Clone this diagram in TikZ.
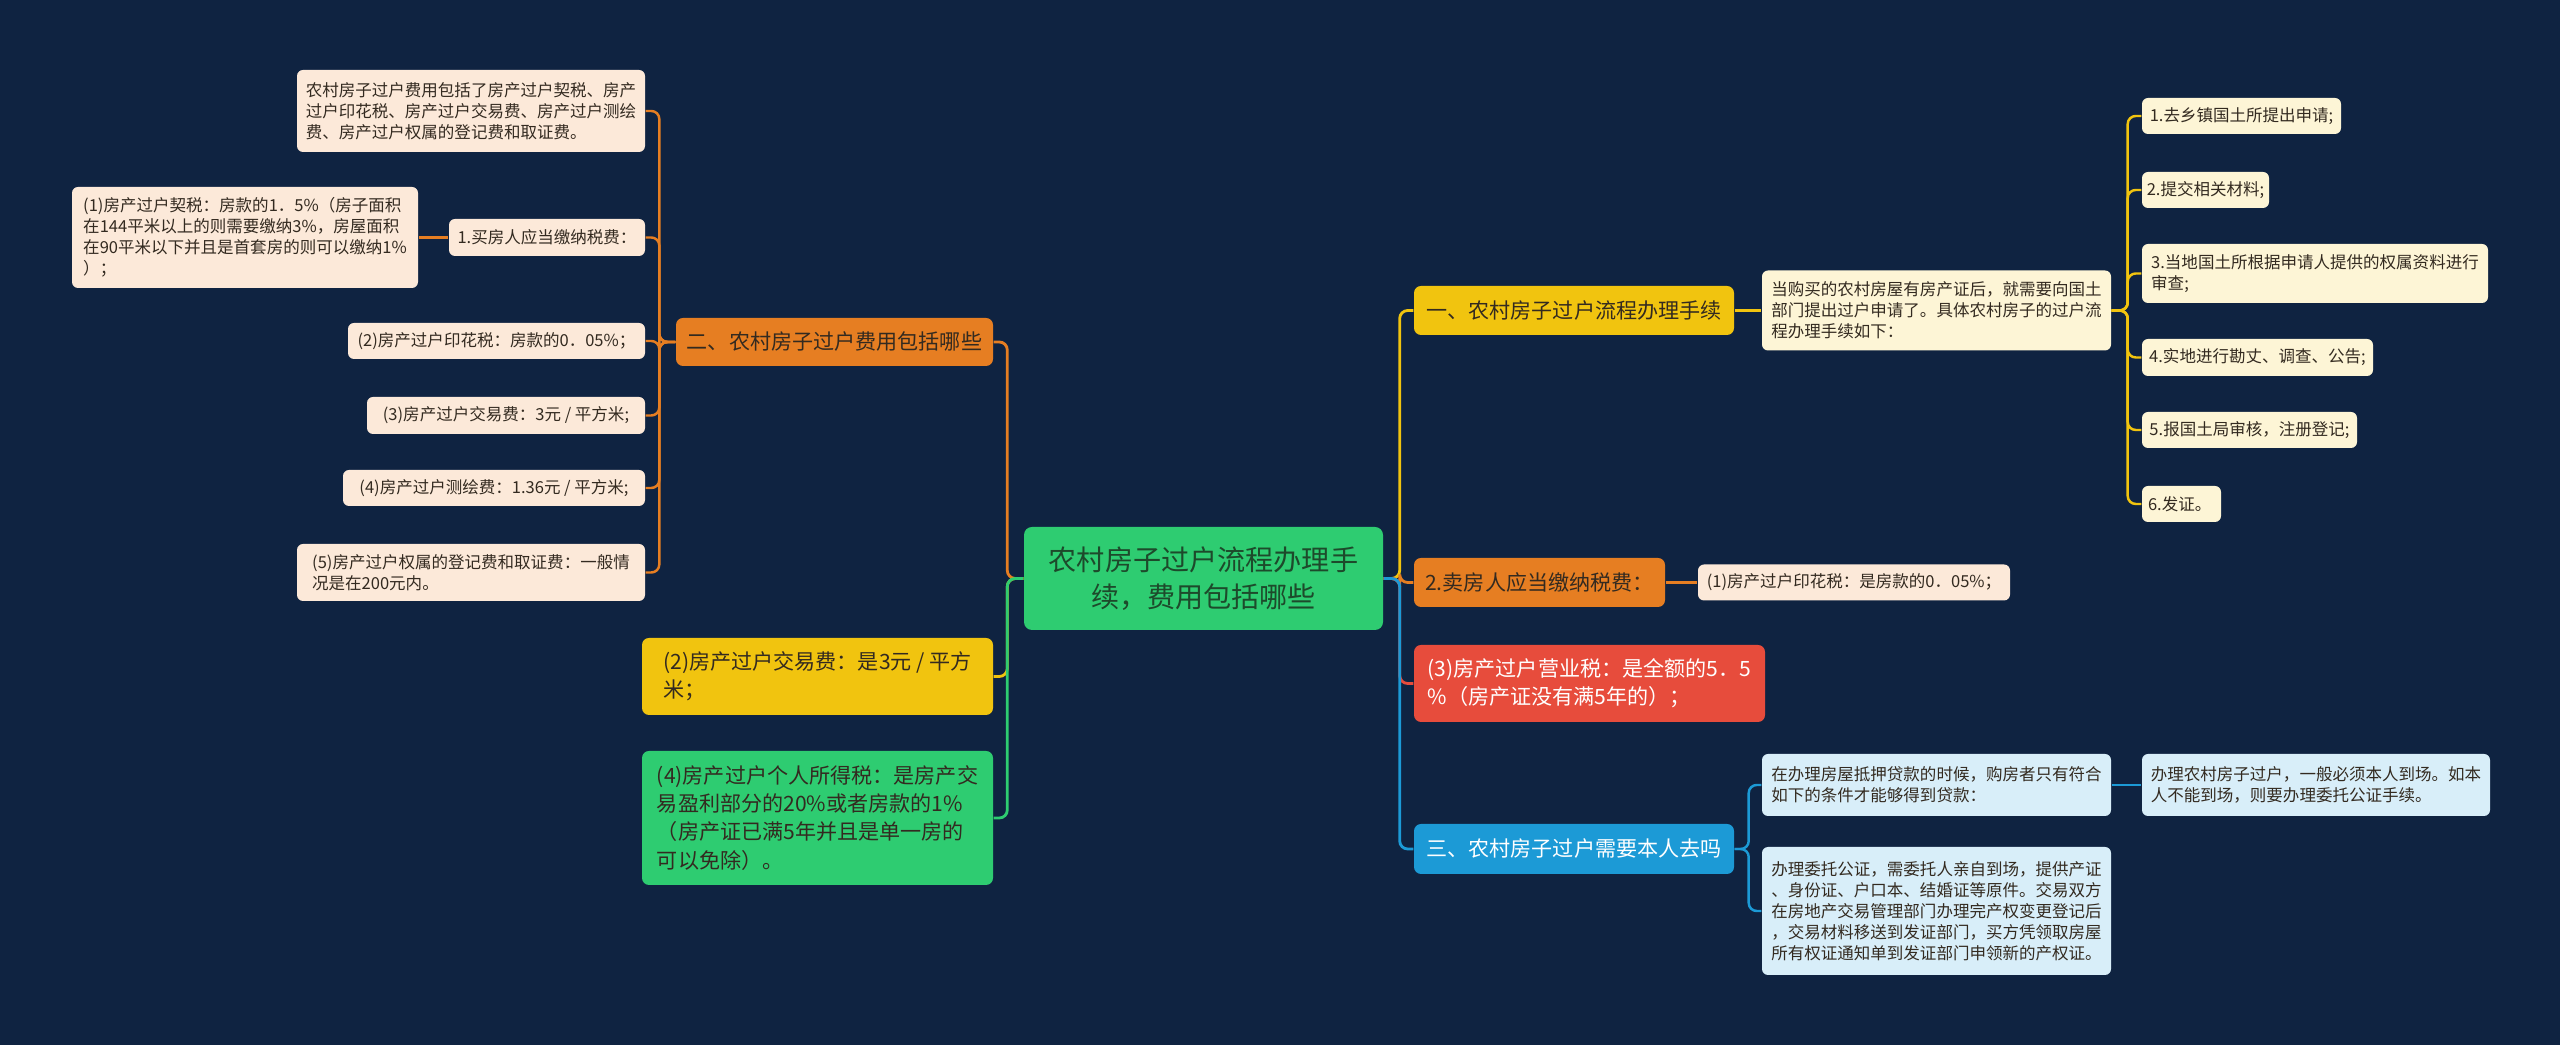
\documentclass[tikz,border=0pt]{standalone}
\usepackage{fontspec}
\setmainfont{Noto Sans CJK SC}
\usepackage{xcolor}
\usepackage{tikz}
\usetikzlibrary{positioning}
\definecolor{kbg}{HTML}{0F2341}
\definecolor{korange}{HTML}{E67E22}
\definecolor{kyellow}{HTML}{F1C40F}
\definecolor{kgreen}{HTML}{2ECC71}
\definecolor{kred}{HTML}{E74C3C}
\definecolor{kblue}{HTML}{1C9AD6}
\definecolor{kpeach}{HTML}{FCE9D9}
\definecolor{kcream}{HTML}{FDF5D6}
\definecolor{ksky}{HTML}{D8EEF9}
\definecolor{kink}{HTML}{332A20}
\definecolor{kinkgreen}{HTML}{1D4A2B}

\newcommand{\leaffont}{\fontsize{4.7pt}{6pt}\selectfont}
\newcommand{\topicfont}{\fontsize{6pt}{8pt}\selectfont}
\newcommand{\rootfont}{\fontsize{8pt}{10.5pt}\selectfont}

\tikzset{
  box/.style={rounded corners=0.6mm, inner sep=0pt, align=left, text=kink},
  leaf/.style={box, fill=#1, font=\leaffont},
  topic/.style={box, fill=#1, font=\topicfont, rounded corners=0.7mm},
  conn/.style={draw=#1, line width=0.8pt, rounded corners=0.8mm},
}

\begin{document}
\begin{tikzpicture}[x=0.1mm, y=-0.1mm]

  %% Background
  \fill[kbg] (0,0) rectangle (2560,1045);
  \useasboundingbox (0,0) rectangle (2560,1045);

  %% Root
  \node[box, fill=kgreen, font=\rootfont, text=kinkgreen, align=center,
    rounded corners=0.8mm, minimum width=35.9mm, minimum height=10.3mm] (root) at (1203.5,578.5)
    {农村房子过户流程办理手\\续，费用包括哪些};

  %% Left topics
  \node[topic=korange, minimum width=31.7mm, minimum height=4.8mm] (lfee) at (834.5,342)
    {二、农村房子过户费用包括哪些};
  \node[topic=kyellow, minimum width=35.1mm, minimum height=7.7mm] (lfeetwo) at (817.5,676.5)
    {(2)房产过户交易费：是3元 / 平方\\米；};
  \node[topic=kgreen, minimum width=35.1mm, minimum height=13.4mm] (ltax) at (817.5,818)
    {(4)房产过户个人所得税：是房产交\\易盈利部分的20\%或者房款的1\%\\（房产证已满5年并且是单一房的\\可以免除）。};

  %% Left leaves
  \node[leaf=kpeach, minimum width=34.8mm, minimum height=8.2mm] (lsum) at (471,111)
    {农村房子过户费用包括了房产过户契税、房产\\过户印花税、房产过户交易费、房产过户测绘\\费、房产过户权属的登记费和取证费。};
  \node[leaf=kpeach, minimum width=19.6mm, minimum height=3.7mm] (lbuy) at (547,237.5)
    {1.买房人应当缴纳税费：};
  \node[leaf=kpeach, minimum width=34.6mm, minimum height=10.1mm] (ldeed) at (245,237.5)
    {(1)房产过户契税：房款的1．5\%（房子面积\\在144平米以上的则需要缴纳3\%，房屋面积\\在90平米以下并且是首套房的则可以缴纳1\%\\）；};
  \node[leaf=kpeach, minimum width=29.7mm, minimum height=3.6mm] (lstamp) at (496.5,341)
    {(2)房产过户印花税：房款的0．05\%；};
  \node[leaf=kpeach, minimum width=27.8mm, minimum height=3.7mm] (ltrade) at (506,415.5)
    {(3)房产过户交易费：3元 / 平方米;};
  \node[leaf=kpeach, minimum width=30.2mm, minimum height=3.6mm] (lsurvey) at (494,488)
    {(4)房产过户测绘费：1.36元 / 平方米;};
  \node[leaf=kpeach, minimum width=34.8mm, minimum height=5.7mm] (lreg) at (471,572.5)
    {(5)房产过户权属的登记费和取证费：一般情\\况是在200元内。};

  %% Right topics
  \node[topic=kyellow, minimum width=32mm, minimum height=4.9mm] (rproc) at (1574,310.5)
    {一、农村房子过户流程办理手续};
  \node[topic=korange, minimum width=25.1mm, minimum height=4.9mm] (rsell) at (1539.5,582.5)
    {2.卖房人应当缴纳税费：};
  \node[topic=kred, text=white, minimum width=35.1mm, minimum height=7.7mm] (rbiz) at (1589.5,683.5)
    {(3)房产过户营业税：是全额的5．5\\\%（房产证没有满5年的）；};
  \node[topic=kblue, text=white, minimum width=32mm, minimum height=5mm] (rself) at (1574,849)
    {三、农村房子过户需要本人去吗};

  %% Right leaves
  \node[leaf=kcream, minimum width=34.9mm, minimum height=8mm] (rdesc) at (1936.5,310.5)
    {当购买的农村房屋有房产证后，就需要向国土\\部门提出过户申请了。具体农村房子的过户流\\程办理手续如下：};
  \foreach \i/\x/\y/\w/\h/\txt in {
    1/2241.5/116/19.9/3.6/{1.去乡镇国土所提出申请;},
    2/2205.5/190/12.7/3.6/{2.提交相关材料;},
    3/2315/273.5/34.6/5.9/{3.当地国土所根据申请人提供的权属资料进行\\审查;},
    4/2257.5/357.5/23.1/3.7/{4.实地进行勘丈、调查、公告;},
    5/2249.5/430/21.5/3.6/{5.报国土局审核，注册登记;},
    6/2181.5/504/7.9/3.6/{6.发证。}
  }{
    \node[leaf=kcream, minimum width=\w mm, minimum height=\h mm] (s\i) at (\x,\y) {\txt};
  }
  \node[leaf=kpeach, minimum width=31.2mm, minimum height=3.6mm] (rsellstamp) at (1854,582.5)
    {(1)房产过户印花税：是房款的0．05\%；};
  \node[leaf=ksky, minimum width=34.9mm, minimum height=6.2mm] (rloan) at (1936.5,785)
    {在办理房屋抵押贷款的时候，购房者只有符合\\如下的条件才能够得到贷款：};
  \node[leaf=ksky, minimum width=34.9mm, minimum height=12.8mm] (rproxy) at (1936.5,911)
    {办理委托公证，需委托人亲自到场，提供产证\\、身份证、户口本、结婚证等原件。交易双方\\在房地产交易管理部门办理完产权变更登记后\\，交易材料移送到发证部门，买方凭领取房屋\\所有权证通知单到发证部门申领新的产权证。};
  \node[leaf=ksky, minimum width=34.8mm, minimum height=6.2mm] (rpresent) at (2316,785)
    {办理农村房子过户，一般必须本人到场。如本\\人不能到场，则要办理委托公证手续。};

  %% Connectors
  \foreach \n/\col in {lfee/korange, lfeetwo/kyellow, ltax/kgreen}
    \draw[conn=\col] (root.west) -- ++(-16,0) |- (\n.east);
  \foreach \n/\col in {rproc/kyellow, rsell/korange, rbiz/kred, rself/kblue}
    \draw[conn=\col] (root.east) -- ++(16,0) |- (\n.west);
  \foreach \n in {lsum, lbuy, lstamp, ltrade, lsurvey, lreg}
    \draw[conn=korange, line width=0.7pt] (lfee.west) -- ++(-16,0) |- (\n.east);
  \draw[conn=korange, line width=0.7pt] (lbuy.west) -- (ldeed.east);
  \draw[conn=kyellow, line width=0.7pt] (rproc.east) -- (rdesc.west);
  \foreach \i in {1,...,6}
    \draw[conn=kyellow, line width=0.7pt] (rdesc.east) -- ++(16,0) |- (s\i.west);
  \draw[conn=korange, line width=0.7pt] (rsell.east) -- (rsellstamp.west);
  \foreach \n in {rloan, rproxy}
    \draw[conn=kblue, line width=0.7pt] (rself.east) -- ++(14,0) |- (\n.west);
  \draw[conn=kblue, line width=0.7pt] (rloan.east) -- (rpresent.west);

\end{tikzpicture}
\end{document}
